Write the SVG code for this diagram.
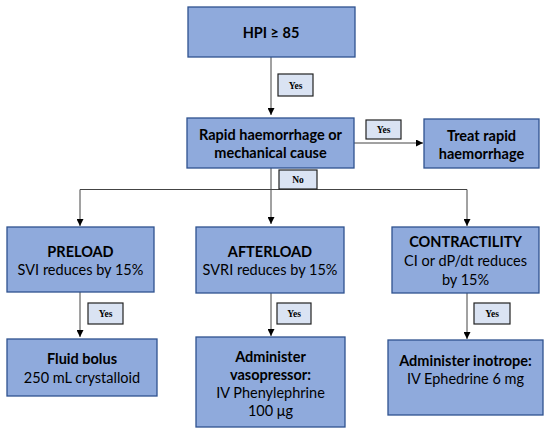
<svg xmlns="http://www.w3.org/2000/svg" width="550" height="434" viewBox="0 0 550 434">
<defs>
<marker id="ah" viewBox="0 0 10 10" refX="10" refY="5" markerWidth="7" markerHeight="7" orient="auto" markerUnits="userSpaceOnUse">
<path d="M0,0 L10,5 L0,10 z" fill="#000"/>
</marker>
<style>
.box{fill:#8faadc;stroke:#2f528f;stroke-width:1.3}
.lbl{fill:#dae3f3;stroke:#222;stroke-width:1.2}
.t{font-family:Lato,"Liberation Sans",sans-serif;font-size:14.5px;fill:#000;text-anchor:middle}
.b{font-weight:bold}
.lt{font-family:"Liberation Serif",serif;font-size:9.5px;font-weight:bold;fill:#000;text-anchor:middle}
.c{fill:none;stroke:#444;stroke-width:1}
</style>
</defs>
<rect width="550" height="434" fill="#fff"/>
<g id="connectors">
<path class="c" d="M271,57 V115" marker-end="url(#ah)"/>
<path class="c" d="M354,143 H423" marker-end="url(#ah)"/>
<path class="c" d="M271,168 V224" marker-end="url(#ah)"/>
<path class="c" d="M80,189.5 H467"/>
<path class="c" d="M80,189.5 V226" marker-end="url(#ah)"/>
<path class="c" d="M467,189.5 V226" marker-end="url(#ah)"/>
<path class="c" d="M80,292 V337" marker-end="url(#ah)"/>
<path class="c" d="M271,293 V336" marker-end="url(#ah)"/>
<path class="c" d="M467,293 V339" marker-end="url(#ah)"/>
<g id="lbl-yes1"><rect class="lbl" x="278" y="74" width="35" height="22"/><text class="lt" x="295.5" y="88.5">Yes</text></g>
<g id="lbl-yes2"><rect class="lbl" x="366" y="120" width="35" height="19"/><text class="lt" x="383.5" y="133">Yes</text></g>
<g id="lbl-no"><rect class="lbl" x="279" y="170" width="38" height="19"/><text class="lt" x="298" y="183">No</text></g>
<g id="lbl-yes3"><rect class="lbl" x="88" y="303" width="35" height="21"/><text class="lt" x="105.5" y="317">Yes</text></g>
<g id="lbl-yes4"><rect class="lbl" x="277" y="303" width="34" height="21"/><text class="lt" x="294" y="317">Yes</text></g>
<g id="lbl-yes5"><rect class="lbl" x="474" y="303" width="36" height="21"/><text class="lt" x="492" y="317">Yes</text></g>
</g>
<g id="hpi"><rect class="box" x="188" y="7" width="167" height="50"/><text class="t b" x="271" y="38">HPI ≥  85</text></g>
<g id="rapid"><rect class="box" x="187" y="118" width="167" height="50"/><text class="t b" x="270.5" y="140">Rapid haemorrhage or</text><text class="t b" x="270.5" y="158">mechanical cause</text></g>
<g id="treat"><rect class="box" x="424" y="119" width="115" height="49"/><text class="t b" x="481.5" y="141">Treat rapid</text><text class="t b" x="481.5" y="159">haemorrhage</text></g>
<g id="preload"><rect class="box" x="7" y="227" width="147" height="65"/><text class="t b" x="80.5" y="257">PRELOAD</text><text class="t" x="80.5" y="275">SVI reduces by 15%</text></g>
<g id="afterload"><rect class="box" x="196" y="227" width="148" height="66"/><text class="t b" x="270" y="257">AFTERLOAD</text><text class="t" x="270" y="275">SVRI reduces by 15%</text></g>
<g id="contractility"><rect class="box" x="392" y="227" width="147" height="66"/><text class="t b" x="465.5" y="247">CONTRACTILITY</text><text class="t" x="465.5" y="266">CI or dP/dt reduces</text><text class="t" x="465.5" y="285">by 15%</text></g>
<g id="fluid"><rect class="box" x="7" y="339" width="150" height="57"/><text class="t b" x="82" y="364">Fluid bolus</text><text class="t" x="82" y="383">250 mL crystalloid</text></g>
<g id="vasopressor"><rect class="box" x="196" y="337" width="149" height="90"/><text class="t b" x="270.5" y="362">Administer</text><text class="t b" x="270.5" y="380">vasopressor:</text><text class="t" x="270.5" y="398">IV Phenylephrine</text><text class="t" x="270.5" y="416">100 μg</text></g>
<g id="inotrope"><rect class="box" x="388" y="340" width="155" height="75"/><text class="t b" x="465.5" y="366">Administer inotrope:</text><text class="t" x="465.5" y="384">IV Ephedrine 6 mg</text></g>
</svg>
